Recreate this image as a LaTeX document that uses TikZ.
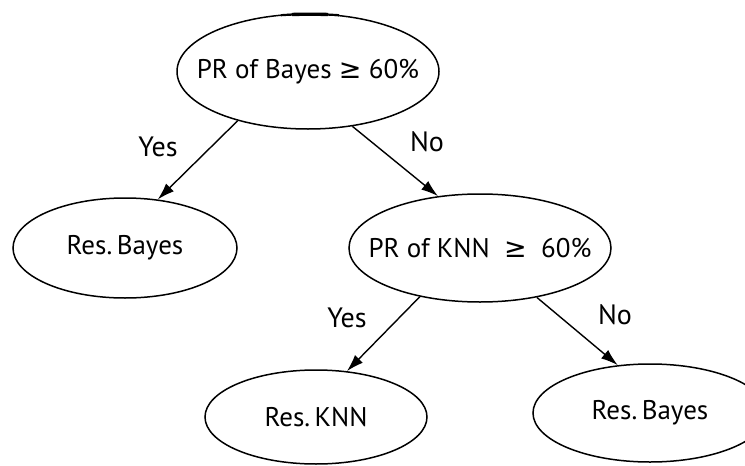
\documentclass[tikz,border=0pt]{standalone}
\usepackage{fontspec}
\setmainfont{PT Sans}
\newfontfamily\symfont{DejaVu Sans}
\usetikzlibrary{shapes.geometric,arrows.meta}
\newcommand{\gte}{{\symfont ≥}}
\newcommand{\nowidth}[1]{\makebox[0pt]{#1}}
\begin{document}
\begin{tikzpicture}[x=1pt,y=-1pt,
  every node/.style={font=\fontsize{27}{30}\selectfont},
  decision/.style={ellipse,draw,line width=1.5pt,inner sep=0pt},
  edge/.style={line width=1.4pt,-{Latex[length=17pt,width=11pt]}},
  answer/.style={inner sep=0pt,font=\fontsize{28}{32}\selectfont}]
\useasboundingbox (0,0) rectangle (745,466);
\fill[white] (0,0) rectangle (745,466);

% decision tree nodes
\node[decision,minimum width=262pt,minimum height=115pt] (root) at (308,71.5) {\nowidth{PR of Bayes \gte\ 60\%}};
\node[decision,minimum width=224pt,minimum height=100pt] (resA) at (125,248) {\nowidth{Res.\,Bayes}};
\node[decision,minimum width=262pt,minimum height=108pt] (knn) at (480,248) {\nowidth{PR of KNN \ \gte\ \ 60\%}};
\node[decision,minimum width=222pt,minimum height=94pt] (resB) at (316,417) {\nowidth{Res.\,KNN}};
\node[decision,minimum width=234pt,minimum height=98pt] (resC) at (650,413) {\nowidth{Res.\,Bayes}};

% heavier stroke along the top of the root outline
\draw[line width=2.2pt] (281,15.2) .. controls (300,13.9) and (320,13.9) .. (339,15.2);
\draw[line width=3.4pt] (292,14.5) .. controls (302,14.1) and (318,14.1) .. (328,14.5);

% branches
\draw[edge] (root.-145.3) -- (resA.56.6);
\draw[edge] (root.-51) -- (knn.129.3);
\draw[edge] (knn.-141.1) -- (resB.56);
\draw[edge] (knn.-41.3) -- (resC.124.2);

% branch labels
\node[answer] (y1) at (158,147) {Yes};
\node[answer] (n1) at (427,142) {No};
\node[answer] (y2) at (347,318) {Yes};
\node[answer] (n2) at (615,315) {No};
\end{tikzpicture}
\end{document}
